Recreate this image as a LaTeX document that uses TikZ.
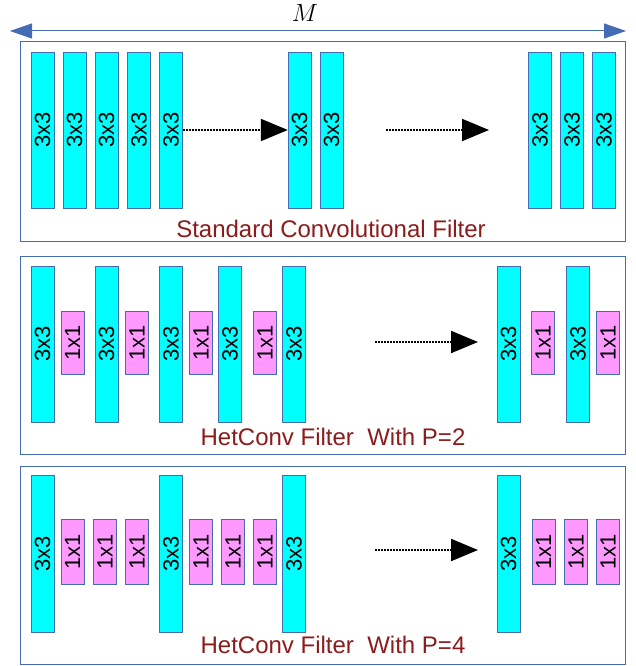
\documentclass[tikz,border=0pt]{standalone}
\usepackage{fontspec}
\setmainfont{Liberation Sans}
\usetikzlibrary{arrows.meta}
\definecolor{barcyan}{RGB}{0,255,255}
\definecolor{barpink}{RGB}{255,153,255}
\definecolor{edgeblue}{RGB}{68,108,180}
\definecolor{capred}{RGB}{140,28,28}
\tikzset{
  kthree/.style={draw=edgeblue,fill=barcyan,minimum width=23pt,minimum height=156pt,inner sep=0pt,font=\fontsize{22}{22}\selectfont},
  kone/.style={kthree,fill=barpink,minimum height=63pt},
  panel/.style={draw=edgeblue,line width=1pt},
  dotarrow/.style={densely dotted,line width=2pt,-{Triangle[length=27pt,width=22pt]}},
  caption/.style={text=capred,font=\fontsize{24}{24}\selectfont}
}
\begin{document}
\begin{tikzpicture}[x=1pt,y=-1pt]
\useasboundingbox (0,0) rectangle (635,666);
% width of the filter
\coordinate (wl) at (10,31);
\coordinate (wr) at (626,31);
\draw[edgeblue,line width=1pt,{Triangle[length=22pt,width=15pt]}-{Triangle[length=22pt,width=15pt]}] (wl) -- (wr);
\node[font=\fontsize{25}{25}\selectfont] (m) at (305,13) {$M$};
% standard convolution
\draw[panel] (20,42) rectangle (625,241);
\foreach \x [count=\i] in {42.5,74.5,106.5,139,171,299.5,331.5,540,572,604}
  \node[kthree] (s\i) at (\x,130) {\rotatebox{90}{3x3}};
\draw[dotarrow] (s5) -- (s6);
\coordinate (sa) at (386,130);
\coordinate (sb) at (489,130);
\draw[dotarrow] (sa) -- (sb);
\node[caption] (cs) at (331,229) {Standard Convolutional Filter};
% hetconv p=2
\draw[panel] (20,256) rectangle (625,454);
\foreach \x [count=\i] in {42.5,106.5,171,230,294,508.5,578}
  \node[kthree] (h\i) at (\x,344) {\rotatebox{90}{3x3}};
\foreach \x [count=\i] in {72.5,137,201,265,543,608}
  \node[kone] (p\i) at (\x,342.5) {\rotatebox{90}{1x1}};
\coordinate (ha) at (375,342);
\coordinate (hb) at (478,342);
\draw[dotarrow] (ha) -- (hb);
\node[caption] (ch) at (333,437) {HetConv Filter\ \ With P=2};
% hetconv p=4
\draw[panel] (20,466) rectangle (625,664);
\foreach \x [count=\i] in {42.5,171,294,508.5}
  \node[kthree,minimum height=157pt] (q\i) at (\x,553.5) {\rotatebox{90}{3x3}};
\foreach \x [count=\i] in {72.5,105,137,201,233,265,543.5,576,608}
  \node[kone,minimum height=65pt] (r\i) at (\x,551.5) {\rotatebox{90}{1x1}};
\coordinate (qa) at (375,550);
\coordinate (qb) at (478,550);
\draw[dotarrow] (qa) -- (qb);
\node[caption] (cq) at (333,645) {HetConv Filter\ \ With P=4};
\end{tikzpicture}
\end{document}
